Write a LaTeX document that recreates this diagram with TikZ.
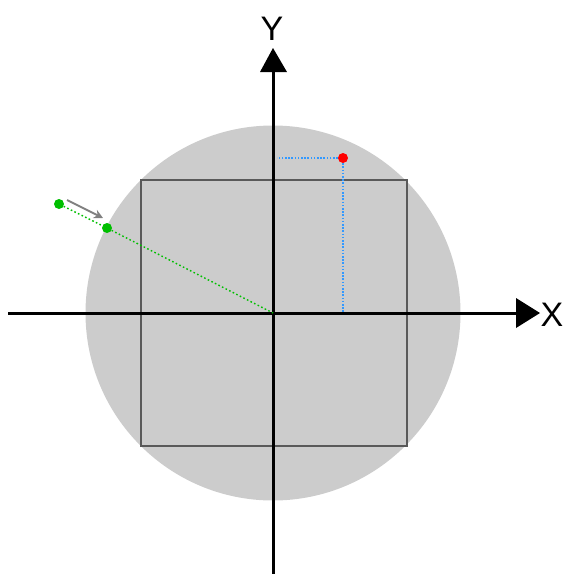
\documentclass[tikz,border=0pt]{standalone}
\usepackage{fontspec}
\setmainfont{Liberation Sans}
\usetikzlibrary{arrows.meta}
\begin{document}
\begin{tikzpicture}[x=1pt,y=-1pt,
  axis/.style={line width=3pt,black},
  tipbox/.style={fill=black},
  dot/.style={circle,inner sep=0pt,minimum size=10pt},
  lbl/.style={font=\fontsize{34}{34}\selectfont,inner sep=0pt},
  guide/.style={dash pattern=on 1.6pt off 1.6pt,line width=1.4pt,color=blue!50!cyan!80!white},
  gguide/.style={dash pattern=on 1.6pt off 2.4pt,line width=1.4pt,color=green!75!black}]
\useasboundingbox (0,0) rectangle (564,574);
\fill[black!20] (273,313) circle[radius=187.5];
\draw[line width=1.8pt,black!65] (141,180) rectangle (407,446);
\coordinate (o) at (273,313);
\coordinate (xs) at (8,313);
\coordinate (ys) at (273,574);
\coordinate (xe) at (518,313);
\coordinate (ye) at (273,70);
\draw[axis] (xs) -- (xe);
\draw[axis] (ys) -- (ye);
\fill[tipbox] (516,298) -- (540,313) -- (516,328) -- cycle;
\fill[tipbox] (260,72) -- (273,48) -- (287,72) -- cycle;
\node[lbl] (xl) at (552,315) {X};
\node[lbl] (yl) at (272,29) {Y};
\node[dot,fill=red] (r) at (343,158) {};
\coordinate (rx) at (343,313);
\coordinate (ry) at (277,158);
\draw[guide] (r) -- (rx);
\draw[guide] (r) -- (ry);
\node[dot,fill=green!75!black] (g1) at (59,204) {};
\node[dot,fill=green!75!black] (g2) at (107,228) {};
\draw[gguide] (g1) -- (g2) -- (o);
\coordinate (as) at (67,200);
\coordinate (ae) at (103,218);
\draw[line width=1.8pt,black!50,-{Stealth[length=9pt,width=9pt]}] (as) -- (ae);
\end{tikzpicture}
\end{document}
